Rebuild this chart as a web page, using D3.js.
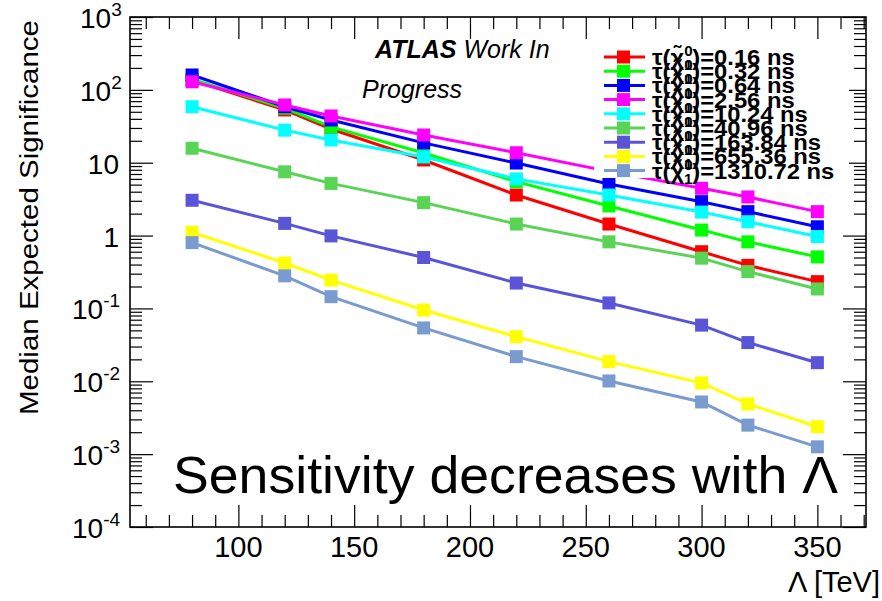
<!DOCTYPE html>
<html>
<head>
<meta charset="utf-8">
<script src="https://cdn.jsdelivr.net/npm/d3@7"></script>
<style>
  body { margin: 0; background: #fff; }
  svg { display: block; }
  text { font-family: "Liberation Sans", Arial, sans-serif; fill: #000; }
</style>
</head>
<body>
<svg id="chart" width="882" height="601"></svg>
<script>
// Lambda values (TeV) on the x axis
var lambdas = [80, 120, 140, 180, 220, 260, 300, 320, 350];

// neutralino lifetimes, one series each
var lifetimes = ["0.16", "0.32", "0.64", "2.56", "10.24", "40.96", "163.84", "655.36", "1310.72"];
var colors = ["#ff0000", "#00ff00", "#0000ff", "#ff00ff", "#00ffff", "#59d454", "#5954d8", "#ffff00", "#7a9bd0"];

// median expected significance
var sig_0p16    = [136, 53, 29, 10.9, 3.6, 1.44, 0.60, 0.39, 0.233];
var sig_0p32    = [140, 56, 31, 13.6, 5.5, 2.55, 1.19, 0.82, 0.51];
var sig_0p64    = [160, 58.7, 38.6, 18.7, 9.9, 5.1, 2.92, 2.13, 1.32];
var sig_2p56    = [129, 62, 43.8, 24, 13.7, 7.6, 4.46, 3.39, 2.13];
var sig_10p24   = [58.7, 28, 20.5, 12, 6.0, 3.6, 2.1, 1.55, 0.97];
var sig_40p96   = [15.8, 7.5, 5.2, 2.83, 1.44, 0.82, 0.49, 0.32, 0.185];
var sig_163p84  = [3.05, 1.47, 0.99, 0.50, 0.223, 0.119, 0.059, 0.034, 0.018];
var sig_655p36  = [1.11, 0.42, 0.245, 0.095, 0.041, 0.0186, 0.0095, 0.0049, 0.00238];
var sig_1310p72 = [0.80, 0.28, 0.145, 0.054, 0.0218, 0.0101, 0.0052, 0.0025, 0.00126];

var allSig = [sig_0p16, sig_0p32, sig_0p64, sig_2p56, sig_10p24, sig_40p96, sig_163p84, sig_655p36, sig_1310p72];

// tick labels
var xMajorTicks = [100, 150, 200, 250, 300, 350];
var yTickExps = [3, 2, 1, 0, -1, -2, -3, -4];

var svg = d3.select("#chart");
var plotL = 130, plotR = 866, plotT = 17, plotB = 527;

var x = d3.scaleLinear().domain([53.2, 371]).range([plotL, plotR]);
var y = d3.scaleLog().domain([1e-4, 1e3]).range([plotB, plotT]);

// minor tick values
var xMinor = d3.range(60, 371, 10).filter(function(v) { return v % 50 != 0; });
var yMinor = [];
for (var e = -4; e < 3; e++) {
  for (var m = 2; m <= 9; m++) yMinor.push(m * Math.pow(10, e));
}
var yMajor = yTickExps.map(function(p) { return Math.pow(10, p); });

function drawAxis(axis, tx, ty) {
  var g = svg.append("g").attr("transform", "translate(" + tx + "," + ty + ")").call(axis);
  g.select(".domain").remove();
  g.selectAll(".tick line").attr("stroke", "#000").attr("stroke-width", 1.2);
  g.selectAll(".tick text").remove();
  return g;
}

// x axes, bottom and top
drawAxis(d3.axisBottom(x).tickValues(xMajorTicks).tickSize(-22), 0, plotB);
drawAxis(d3.axisBottom(x).tickValues(xMinor).tickSize(-12), 0, plotB);
drawAxis(d3.axisTop(x).tickValues(xMajorTicks).tickSize(-22), 0, plotT);
drawAxis(d3.axisTop(x).tickValues(xMinor).tickSize(-12), 0, plotT);
// y axes, left and right
drawAxis(d3.axisLeft(y).tickValues(yMajor).tickSize(-23), plotL, 0);
drawAxis(d3.axisLeft(y).tickValues(yMinor).tickSize(-12), plotL, 0);
drawAxis(d3.axisRight(y).tickValues(yMajor).tickSize(-23), plotR, 0);
drawAxis(d3.axisRight(y).tickValues(yMinor).tickSize(-12), plotR, 0);

// frame
svg.append("rect")
  .attr("x", plotL).attr("y", plotT)
  .attr("width", plotR - plotL).attr("height", plotB - plotT)
  .attr("fill", "none").attr("stroke", "#000").attr("stroke-width", 1.6);

// x tick labels
svg.selectAll(".xlab").data(xMajorTicks).enter().append("text")
  .attr("x", function(d) { return x(d); })
  .attr("y", 557)
  .attr("text-anchor", "middle")
  .attr("font-size", 29)
  .text(function(d) { return d; });

// y tick labels
yTickExps.forEach(function(p) {
  var yy = y(Math.pow(10, p)) + 11;
  var t = svg.append("text").attr("y", yy).attr("font-size", 28);
  if (p == 0) {
    t.attr("x", 119).attr("text-anchor", "end").text("1");
  } else if (p == 1) {
    t.attr("x", 119).attr("text-anchor", "end").text("10");
  } else {
    t.attr("x", p < 0 ? 72 : 80);
    t.append("tspan").text("10");
    t.append("tspan").attr("font-size", 19).attr("dy", -12).text(p);
  }
});

// axis titles
svg.append("text")
  .attr("transform", "translate(38,415) rotate(-90)")
  .attr("font-size", 25)
  .attr("textLength", 395).attr("lengthAdjust", "spacingAndGlyphs")
  .text("Median Expected Significance");

svg.append("text")
  .attr("x", 880).attr("y", 592)
  .attr("text-anchor", "end")
  .attr("font-size", 29)
  .text("\u039B [TeV]");

// series lines + markers
var line = d3.line()
  .x(function(d) { return x(d[0]); })
  .y(function(d) { return y(d[1]); });

allSig.forEach(function(vals, i) {
  var pts = lambdas.map(function(l, j) { return [l, vals[j]]; });
  svg.append("path")
    .datum(pts)
    .attr("d", line)
    .attr("fill", "none")
    .attr("stroke", colors[i])
    .attr("stroke-width", 3);
  svg.selectAll(".m" + i).data(pts).enter().append("rect")
    .attr("x", function(d) { return x(d[0]) - 6.5; })
    .attr("y", function(d) { return y(d[1]) - 6.5; })
    .attr("width", 13).attr("height", 13)
    .attr("fill", colors[i]);
});

// legend (white box hides the lines behind it)
svg.append("rect")
  .attr("x", 594).attr("y", 40)
  .attr("width", 255).attr("height", 138)
  .attr("fill", "#fff");

lifetimes.forEach(function(lt, i) {
  var ly = 57 + i * 14.2;
  svg.append("line")
    .attr("x1", 604).attr("x2", 645)
    .attr("y1", ly).attr("y2", ly)
    .attr("stroke", colors[i]).attr("stroke-width", 3);
  svg.append("rect")
    .attr("x", 617).attr("y", ly - 6.5)
    .attr("width", 13).attr("height", 13)
    .attr("fill", colors[i]);
  var t = svg.append("text")
    .attr("transform", "translate(652," + (ly + 8) + ") scale(1.08,1)")
    .attr("font-size", 22).attr("font-weight", "bold");
  t.append("tspan").text("\u03C4(\u03C7\u0303");
  t.append("tspan").attr("font-size", 14).attr("dy", -9).text("0");
  t.append("tspan").attr("font-size", 14).attr("dy", 14).attr("dx", -8).text("1");
  t.append("tspan").attr("dy", -5).text(")=" + lt + " ns");
});

// ATLAS label
var atl = svg.append("text").attr("x", 375).attr("y", 58).attr("font-size", 25).attr("font-style", "italic");
atl.append("tspan").attr("font-weight", "bold").text("ATLAS");
atl.append("tspan").text(" Work In");
svg.append("text").attr("x", 362).attr("y", 98).attr("font-size", 25).attr("font-style", "italic").text("Progress");

// big annotation
svg.append("text")
  .attr("x", 173).attr("y", 493)
  .attr("font-size", 52)
  .attr("textLength", 665).attr("lengthAdjust", "spacingAndGlyphs")
  .text("Sensitivity decreases with \u039B");
</script>
</body>
</html>
